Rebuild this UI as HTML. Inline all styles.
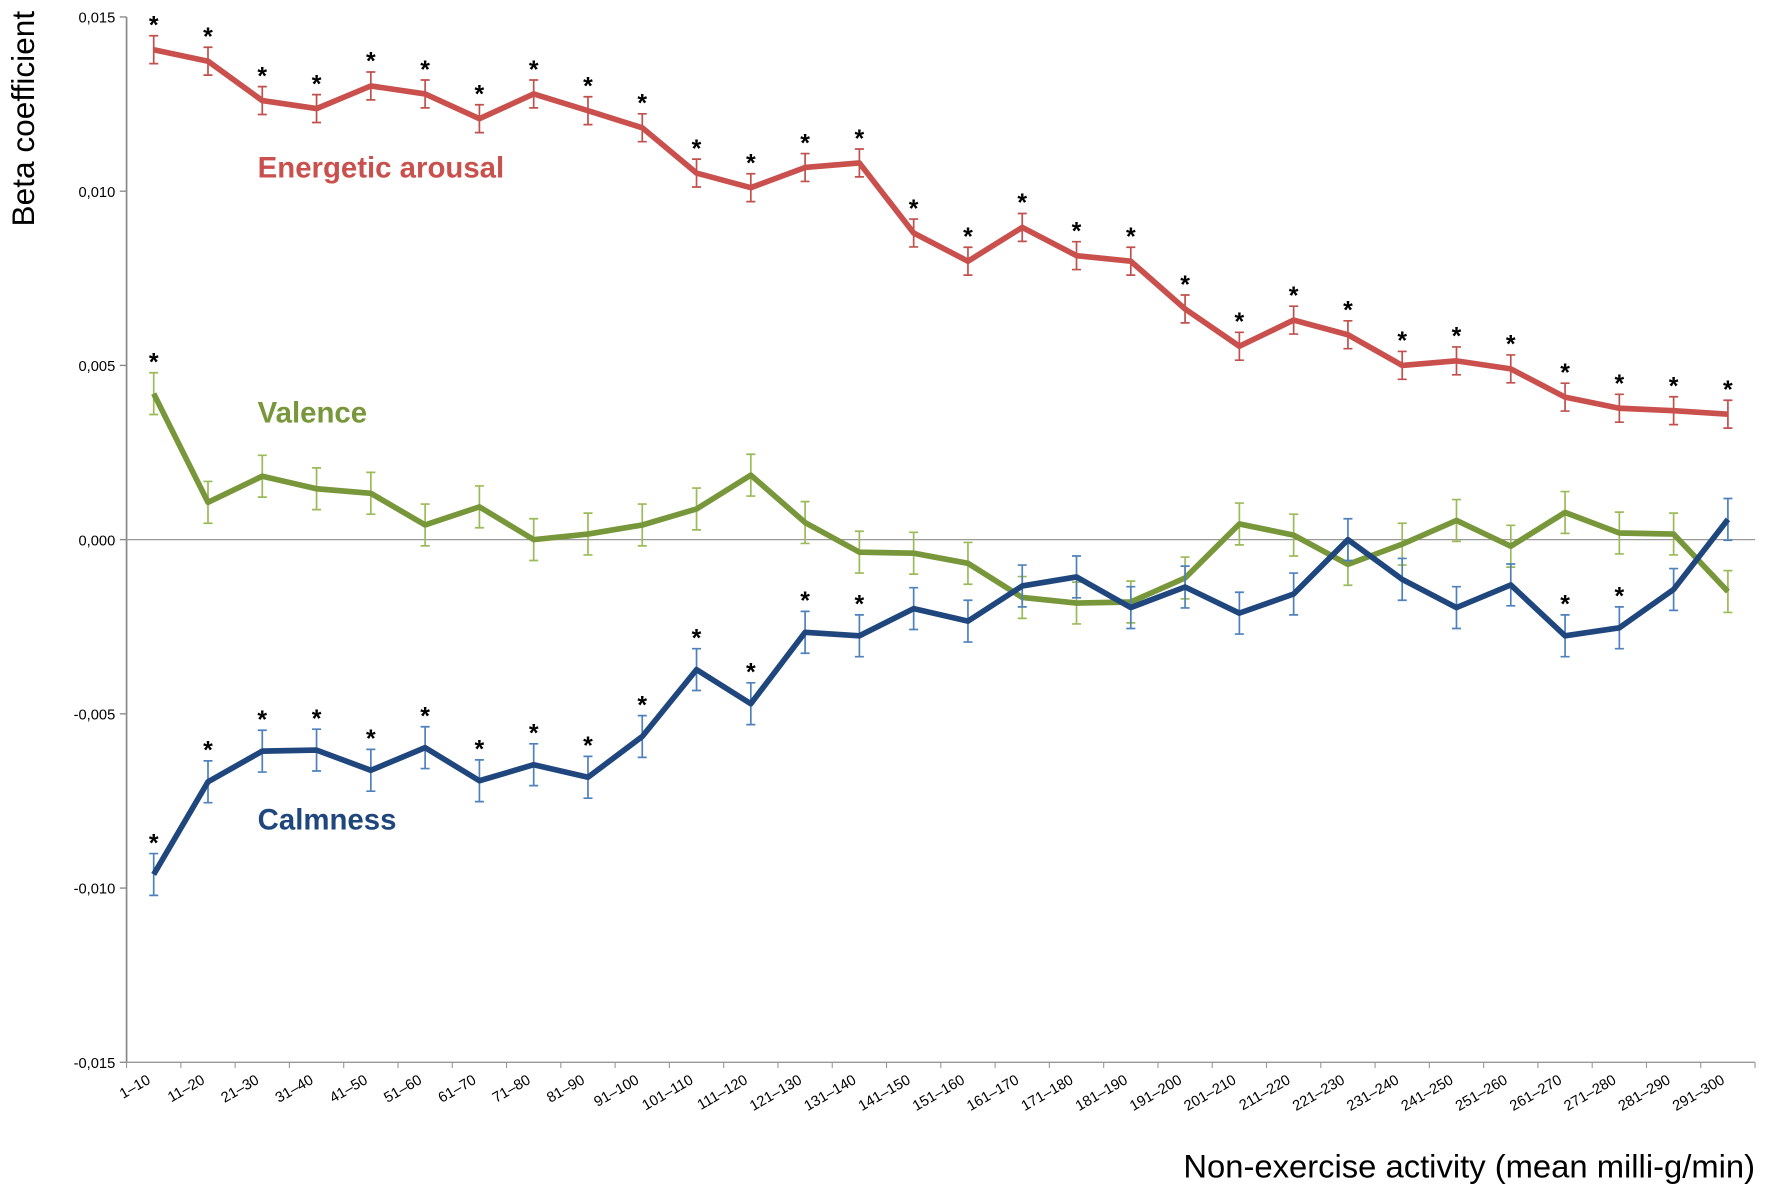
<!DOCTYPE html>
<html><head><meta charset="utf-8"><style>
html,body{margin:0;padding:0;background:#fff;}
svg{display:block;font-family:"Liberation Sans",sans-serif;}
</style></head><body>
<svg id="chart" width="1772" height="1190" viewBox="0 0 1568 1053" preserveAspectRatio="none" xmlns="http://www.w3.org/2000/svg">
<g id="axes"></g>
<g id="series"></g>
<text transform="translate(30,105) rotate(-90)" text-anchor="middle" font-size="28" fill="#000">Beta coefficient</text>
<text x="1553" y="1042" text-anchor="end" font-size="29" fill="#000">Non-exercise activity (mean milli-g/min)</text>
<text x="228" y="157" font-size="26" font-weight="bold" fill="#c9504d">Energetic arousal</text>
<text x="228" y="374" font-size="26" font-weight="bold" fill="#77973a">Valence</text>
<text x="228" y="734" font-size="26" font-weight="bold" fill="#1f477d">Calmness</text>
</svg>
<script>
const categories=["1–10","11–20","21–30","31–40","41–50","51–60","61–70","71–80","81–90","91–100","101–110","111–120","121–130","131–140","141–150","151–160","161–170","171–180","181–190","191–200","201–210","211–220","221–230","231–240","241–250","251–260","261–270","271–280","281–290","291–300"];
const energetic=[0.01406,0.01373,0.01260,0.01237,0.01302,0.01279,0.01208,0.01279,0.01231,0.01182,0.01052,0.01010,0.01068,0.01081,0.00880,0.00799,0.00896,0.00815,0.00799,0.00662,0.00555,0.00630,0.00588,0.00500,0.00513,0.00490,0.00409,0.00377,0.00370,0.00360];
const energeticErr=[0.0004,0.0004,0.0004,0.0004,0.0004,0.0004,0.0004,0.0004,0.0004,0.0004,0.0004,0.0004,0.0004,0.0004,0.0004,0.0004,0.0004,0.0004,0.0004,0.0004,0.0004,0.0004,0.0004,0.0004,0.0004,0.0004,0.0004,0.0004,0.0004,0.0004];
const valence=[0.00419,0.00107,0.00182,0.00146,0.00133,0.00042,0.00094,0,0.00016,0.00042,0.00088,0.00185,0.00049,-0.00036,-0.00039,-0.00068,-0.00166,-0.00182,-0.00179,-0.00110,0.00045,0.00013,-0.00071,-0.00013,0.00055,-0.00019,0.00078,0.00019,0.00016,-0.00149];
const valenceErr=[0.0006,0.0006,0.0006,0.0006,0.0006,0.0006,0.0006,0.0006,0.0006,0.0006,0.0006,0.0006,0.0006,0.0006,0.0006,0.0006,0.0006,0.0006,0.0006,0.0006,0.0006,0.0006,0.0006,0.0006,0.0006,0.0006,0.0006,0.0006,0.0006,0.0006];
const calmness=[-0.00961,-0.00695,-0.00607,-0.00604,-0.00662,-0.00597,-0.00692,-0.00646,-0.00682,-0.00565,-0.00373,-0.00471,-0.00266,-0.00276,-0.00198,-0.00234,-0.00133,-0.00107,-0.00195,-0.00136,-0.00211,-0.00156,0,-0.00114,-0.00195,-0.00130,-0.00276,-0.00253,-0.00143,0.00058];
const calmnessErr=[0.0006,0.0006,0.0006,0.0006,0.0006,0.0006,0.0006,0.0006,0.0006,0.0006,0.0006,0.0006,0.0006,0.0006,0.0006,0.0006,0.0006,0.0006,0.0006,0.0006,0.0006,0.0006,0.0006,0.0006,0.0006,0.0006,0.0006,0.0006,0.0006,0.0006];
const energeticSig=[1,1,1,1,1,1,1,1,1,1,1,1,1,1,1,1,1,1,1,1,1,1,1,1,1,1,1,1,1,1];
const valenceSig=[1,0,0,0,0,0,0,0,0,0,0,0,0,0,0,0,0,0,0,0,0,0,0,0,0,0,0,0,0,0];
const calmnessSig=[1,1,1,1,1,1,1,1,1,1,1,1,1,1,0,0,0,0,0,0,0,0,0,0,0,0,1,1,0,0];
const yTicks=[0.015,0.010,0.005,0,-0.005,-0.010,-0.015];
const yTickLabels=["0,015","0,010","0,005","0,000","-0,005","-0,010","-0,015"];

const NS="http://www.w3.org/2000/svg";
const L=112,R=1553,T=15,B=940,YMIN=-0.015,YMAX=0.015;
const band=(R-L)/categories.length;
function xs(i){return L+band*(i+0.5);}
function ys(v){return B-(v-YMIN)/(YMAX-YMIN)*(B-T);}
function mk(tag,attrs,parent){const e=document.createElementNS(NS,tag);for(const k in attrs)e.setAttribute(k,attrs[k]);parent.appendChild(e);return e;}
const axes=document.getElementById('axes'),series=document.getElementById('series');

let e=mk('line',{x1:L,y1:T,x2:L,y2:B,stroke:'#888','stroke-width':1.5},axes);


e=mk('line',{x1:L,y1:B,x2:R,y2:B,stroke:'#999','stroke-width':1.2},axes);


e=mk('line',{x1:L,y1:ys(0),x2:R,y2:ys(0),stroke:'#999','stroke-width':1.2},axes);


yTicks.forEach((v,i)=>{
  let t=mk('line',{x1:L-6,y1:ys(v),x2:L,y2:ys(v),stroke:'#888','stroke-width':1.2},axes);
  
  
  let lb=mk('text',{x:L-10,y:ys(v)+5,'text-anchor':'end','font-size':13,fill:'#000'},axes);
  lb.textContent=yTickLabels[i];
  
  
});
for(let i=0;i<=categories.length;i++){
  let t=mk('line',{x1:L+band*i,y1:B,x2:L+band*i,y2:B+5,stroke:'#999','stroke-width':1},axes);
  
  
}
categories.forEach((c,i)=>{
  const x=xs(i)-2,y=B+18;
  let lb=mk('text',{x:x,y:y,'text-anchor':'end','font-size':13,fill:'#000',transform:`rotate(-30 ${x} ${y})`},axes);
  lb.textContent=c;
  
  
});

function drawSeries(name,vals,errs,sig,color,errColor){
  const g=mk('g',{},series);
  
  
  vals.forEach((v,i)=>{
    const x=xs(i),y1=ys(v+errs[i]),y2=ys(v-errs[i]);
    let eb=mk('path',{d:`M${x},${y1}V${y2}M${x-4},${y1}H${x+4}M${x-4},${y2}H${x+4}`,stroke:errColor,'stroke-width':1.5,fill:'none'},g);
    
    
  });
  let p=mk('polyline',{points:vals.map((v,i)=>xs(i)+','+ys(v)).join(' '),stroke:color,'stroke-width':5,fill:'none','stroke-linejoin':'round'},g);
  
  
  vals.forEach((v,i)=>{
    if(!sig[i])return;
    let s=mk('text',{x:xs(i),y:ys(v+errs[i])-2,'text-anchor':'middle','font-size':22,'font-weight':'bold',fill:'#000'},g);
    s.textContent='*';
    
    
  });
}
drawSeries('valence',valence,valenceErr,valenceSig,'#77973a','#9bbb59');
drawSeries('calmness',calmness,calmnessErr,calmnessSig,'#1f477d','#4f81bd');
drawSeries('energetic-arousal',energetic,energeticErr,energeticSig,'#c9504d','#c0504d');
</script>
</body></html>
